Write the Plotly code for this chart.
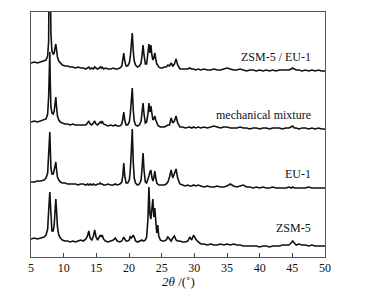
import plotly.graph_objects as go

# ---- common 2-theta grid (degrees) ----
two_theta = [
    # 5 - 9.8
    5.0, 5.5, 6.0, 6.5, 7.0, 7.3, 7.55, 7.7, 7.8, 7.88, 7.95, 8.05, 8.2, 8.4, 8.55, 8.7, 8.8, 8.9, 9.05, 9.25, 9.5, 9.8,
    # 10.2 - 18.6
    10.2, 10.6, 11.0, 11.4, 11.8, 12.2, 12.6, 13.0, 13.4, 13.65, 13.85, 14.05, 14.3, 14.55, 14.75, 14.95, 15.2, 15.45, 15.6, 15.75, 15.9, 16.1, 16.4, 16.8, 17.2, 17.6, 17.9, 18.2, 18.6,
    # 18.9 - 24.8
    18.9, 19.05, 19.2, 19.35, 19.55, 19.8, 20.05, 20.2, 20.35, 20.5, 20.65, 20.8, 21.0, 21.3, 21.6, 21.85, 22.0, 22.15, 22.3, 22.5, 22.7, 22.9, 23.05, 23.2, 23.35, 23.5, 23.65, 23.8, 23.95, 24.1, 24.25, 24.4, 24.55, 24.8,
    # 25.1 - 30.6
    25.1, 25.4, 25.7, 25.95, 26.2, 26.45, 26.7, 26.95, 27.2, 27.45, 27.8, 28.2, 28.6, 29.0, 29.3, 29.6, 29.9, 30.2, 30.6,
    # 31 - 50
    31.0, 31.5, 32.0, 32.5, 33.0, 33.5, 34.0, 34.5, 35.0, 35.5, 36.0, 36.5, 37.0, 37.5, 38.0, 38.5, 39.0, 39.5, 40.0, 40.5,
    41.0, 41.5, 42.0, 42.5, 43.0, 43.5, 44.0, 44.5, 44.8, 45.05, 45.3, 45.6, 46.0, 46.5, 47.0, 47.5, 48.0, 48.5, 49.0, 49.5, 50.0,
]

# ---- intensities (a.u.), relative to each pattern's own baseline ----
zsm5_eu1 = [
    0, 1, 0, 1, 2, 3, 7, 22, 120, 200, 90, 30, 12, 9, 10, 16, 19, 14, 6, 2, 0, -2,
    -3, -3, -4, -4, -5, -4, -5, -5, -6, -5, -4, -6, -5, -6, -4, -5, -6, -5, -4, -5, -4, -6, -5, -6, -6, -5, -6, -6, -5,
    -3, 2, 10, 2, -3, -3, 0, 6, 16, 30, 12, 2, -2, -4, -3, 0, 8, 18, 8, -1, -1, 8, 19, 10, 18, 8, 3, 5, 10, 4, -1, -2, -4, -5,
    -5, -4, -4, -2, -3, 0, -3, -1, 4, -2, -6, -6, -6, -6, -5, -6, -6, -7, -6,
    -7, -6, -7, -7, -6, -7, -7, -6, -5, -6, -7, -7, -6, -7, -8, -7, -7, -8, -7, -8,
    -7, -8, -7, -8, -7, -7, -7, -7, -6, -5, -6, -7, -7, -8, -7, -8, -7, -8, -7, -8, -8,
]

mixture = [
    0, 1, 0, 1, 2, 3, 8, 25, 50, 70, 40, 15, 9, 8, 11, 20, 25, 16, 6, 2, 0, -1,
    -2, -2, -3, -2, -3, -3, -3, -3, -3, -1, 1, -2, -3, -1, 1, -2, -3, -1, 0, -1, 1, -2, -3, -4, -3, -4, -3, -4, -4,
    -2, 3, 10, 2, -3, -3, 0, 8, 20, 34, 12, 1, -3, -4, -3, 1, 10, 19, 8, -1, 0, 8, 19, 10, 16, 8, 2, 3, 6, 2, -2, -3, -4, -5,
    -5, -5, -4, -3, -3, 4, -1, 1, 6, -1, -5, -5, -6, -5, -5, -6, -5, -6, -5,
    -6, -5, -6, -5, -4, -5, -6, -5, -5, -6, -6, -6, -5, -6, -6, -7, -6, -6, -7, -6,
    -6, -7, -6, -6, -6, -7, -6, -6, -5, -4, -6, -6, -7, -6, -6, -7, -6, -7, -6, -7, -7,
]

eu1 = [
    0, 0, 1, 1, 2, 4, 9, 25, 40, 50, 35, 14, 8, 8, 12, 18, 20, 13, 5, 2, 0, -1,
    -1, -2, -2, -2, -2, -3, -2, -2, -3, -2, -3, -2, -3, -2, -3, -3, -2, -2, -1, -2, -2, -3, -3, -2, -3, -3, -2, -3, -2,
    0, 6, 19, 6, -1, -1, 2, 12, 30, 53, 20, 4, -1, -3, -2, 2, 14, 29, 12, 0, -1, 2, 6, 10, 12, 5, 1, 4, 11, 4, -1, -2, -3, -3,
    -3, -3, -2, 0, 5, 12, 4, 8, 13, 4, -2, -3, -4, -3, -4, -4, -3, -4, -3,
    -4, -5, -4, -5, -5, -4, -5, -5, -4, -2, -4, -5, -4, -3, -5, -5, -6, -5, -6, -5,
    -6, -6, -5, -6, -6, -6, -6, -5, -6, -5, -6, -6, -6, -6, -6, -5, -6, -6, -6, -6, -6,
]

zsm5 = [
    0, 1, 0, 1, 2, 4, 10, 28, 44, 47, 38, 18, 8, 8, 14, 30, 40, 30, 12, 4, 1, -1,
    -2, -2, -3, -2, -3, -2, -1, -2, 0, 3, 8, 1, -1, 3, 9, 2, -1, 2, 4, 2, 4, 0, -2, -3, -2, -1, 1, -2, -3,
    -2, 0, 2, 0, -2, -2, -1, 3, 1, 2, 4, 2, -2, -3, -2, -2, -1, -2, -2, -1, 2, 20, 52, 25, 20, 30, 40, 22, 31, 18, 6, 14, 3, -1,
    -2, -2, -1, 2, 0, -2, 1, 3, -1, -2, -2, -3, -3, -2, 2, -1, 4, 0, -3,
    -5, -5, -6, -5, -6, -6, -5, -6, -5, -6, -5, -6, -6, -7, -7, -7, -7, -7, -8, -7,
    -7, -8, -7, -7, -7, -6, -6, -6, -4, -2, -4, -6, -5, -6, -6, -7, -6, -7, -7, -7, -7,
]

series_names = ["ZSM-5 / EU-1", "mechanical mixture", "EU-1", "ZSM-5"]
series_values = [zsm5_eu1, mixture, eu1, zsm5]
series_offsets = [194, 135, 75, 18]
label_y = [200, 142, 83, 29]

for v in series_values:
    assert len(v) == len(two_theta), (len(v), len(two_theta))

x_ticks = [5, 10, 15, 20, 25, 30, 35, 40, 45, 50]

SERIF = "Liberation Serif, Times New Roman, serif"

fig = go.Figure()
for name, vals, off in zip(series_names, series_values, series_offsets):
    fig.add_trace(go.Scatter(
        x=two_theta, y=[v + off for v in vals], mode="lines", name=name,
        line=dict(color="#111111", width=1.6), showlegend=False,
        hoverinfo="skip",
    ))

for name, ly in zip(series_names, label_y):
    fig.add_annotation(x=48.2, y=ly, text=name, showarrow=False, xanchor="right",
                       yanchor="middle", font=dict(family=SERIF, size=12, color="#111111"))

fig.add_annotation(xref="paper", yref="paper", x=0.5, y=-0.1, yanchor="middle",
                   text="<i>2θ</i> /(˚)", showarrow=False,
                   font=dict(family=SERIF, size=13, color="#111111"))

fig.update_layout(
    width=366, height=292,
    margin=dict(l=31, r=41, t=12, b=35),
    paper_bgcolor="white", plot_bgcolor="white",
    xaxis=dict(range=[5, 50], tickvals=x_ticks, ticks="inside", ticklen=4, tickcolor="#444",
               showgrid=False, zeroline=False, showline=True, linecolor="#555", linewidth=1,
               mirror=True, tickfont=dict(family=SERIF, size=12, color="#111")),
    yaxis=dict(range=[0, 245], showticklabels=False, ticks="", showgrid=False, zeroline=False,
               showline=True, linecolor="#555", linewidth=1, mirror=True),
)

fig.write_html("out.html")
